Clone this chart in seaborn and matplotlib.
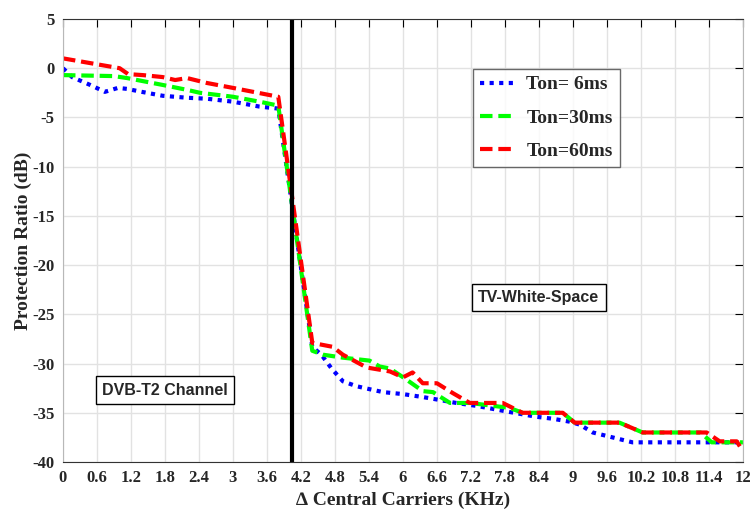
import seaborn as sns
import matplotlib.pyplot as plt
import numpy as np

# values
x_6ms = [0, 0.16, 0.48, 0.74, 0.97, 1.13, 1.39, 1.76, 2.19, 2.54, 3.0, 3.47, 3.8,
         4.4, 4.56, 4.74, 4.94, 5.18, 5.41, 5.65, 6.0, 6.35, 6.65, 6.94, 7.3, 7.77,
         8.35, 8.64, 8.94, 9.12, 9.35, 9.77, 10.05, 12.0]
y_6ms = [0.0, -0.9, -1.7, -2.4, -2.0, -2.1, -2.4, -2.8, -3.0, -3.1, -3.4, -3.9, -4.1,
         -28.3, -29.1, -30.5, -31.8, -32.3, -32.6, -32.9, -33.1, -33.4, -33.7, -34.0,
         -34.3, -34.8, -35.4, -35.6, -35.9, -36.2, -37.0, -37.6, -38.0, -38.0]

x_30ms = [0, 0.9, 1.13, 1.76, 2.19, 2.42, 3.0, 3.47, 3.8, 4.4, 4.59, 4.94, 5.41,
          5.59, 5.77, 6.03, 6.35, 6.53, 6.83, 7.18, 7.88, 8.11, 8.82, 9.03, 9.82,
          10.23, 11.25, 11.45, 12.0]
y_30ms = [-0.7, -0.8, -1.0, -1.7, -2.2, -2.5, -2.9, -3.4, -3.8, -28.7, -29.1, -29.4,
          -29.7, -30.3, -30.5, -31.5, -32.8, -32.9, -34.0, -34.0, -34.5, -35.0, -35.0,
          -36.0, -36.0, -37.0, -37.0, -38.0, -38.0]

x_60ms = [0, 1.0, 1.15, 1.41, 1.76, 1.98, 2.19, 2.54, 3.0, 3.8, 4.4, 4.76, 4.94,
          5.36, 5.77, 6.0, 6.17, 6.35, 6.6, 6.88, 7.18, 7.76, 8.11, 8.82, 9.03, 9.82,
          10.23, 11.36, 11.59, 11.89, 12.0]
y_60ms = [1.0, 0.0, -0.6, -0.7, -0.9, -1.2, -1.0, -1.5, -2.0, -2.9, -27.9, -28.3,
          -29.1, -30.4, -30.8, -31.4, -30.9, -32.0, -32.0, -33.0, -34.0, -34.0, -35.0,
          -35.0, -36.0, -36.0, -37.0, -37.0, -37.9, -37.9, -38.9]

labels = ["Ton= 6ms", "Ton=30ms", "Ton=60ms"]
border_x = 4.05
xticks = np.round(np.arange(0, 12.01, 0.6), 1)
yticks = np.arange(-40, 6, 5)

sns.set_style("whitegrid")
plt.rcParams['font.family'] = ['Liberation Serif', 'DejaVu Serif']
plt.rcParams['font.weight'] = 'bold'
plt.rcParams['axes.unicode_minus'] = False

fig = plt.figure(figsize=(7.55, 5.09), dpi=100)
ax = fig.add_axes([0.0834, 0.0923, 0.9006, 0.8704])

sns.lineplot(x=x_6ms, y=y_6ms, sort=False, color="#0000ff", linestyle=(0, (1, 1.3)),
             lw=3, label=labels[0], ax=ax)
sns.lineplot(x=x_30ms, y=y_30ms, sort=False, color="#00ff00", linestyle=(0, (3, 1.4)),
             lw=3, label=labels[1], ax=ax)
sns.lineplot(x=x_60ms, y=y_60ms, sort=False, color="#ff0000", linestyle=(0, (3, 1.4)),
             lw=3, label=labels[2], ax=ax)
ax.axvline(border_x, color="black", lw=3)

ax.set_xlim(0, 12)
ax.set_ylim(-40, 5)
ax.set_xticks(xticks)
ax.set_xticklabels([f"{v:g}" for v in xticks])
ax.set_yticks(yticks)
ax.tick_params(direction="in", top=True, right=True, labelsize=12, length=5.5,
               color="black", pad=6)
for lab in ax.get_xticklabels() + ax.get_yticklabels():
    lab.set_fontweight("bold")
ax.grid(True, color="#e2e2e2", lw=1)
for side in ["left", "right"]:
    ax.spines[side].set_color("#b8b8b8")
for side in ["top", "bottom"]:
    ax.spines[side].set_color("#333333")

ax.set_xlabel("\u2206 Central Carriers (KHz)", fontsize=14, fontweight="bold", labelpad=4)
ax.set_ylabel("Protection Ratio (dB)", fontsize=14, fontweight="bold", labelpad=0)

leg = ax.legend(loc="upper left", bbox_to_anchor=(0.603, 0.887), borderaxespad=0,
                fontsize=14, frameon=True, fancybox=False, edgecolor="#444444",
                handlelength=1.7, labelspacing=0.8, borderpad=0.35, handletextpad=0.7)
leg.get_frame().set_linewidth(1)
for t in leg.get_texts():
    t.set_fontweight("bold")

box = dict(boxstyle="square,pad=0.4", facecolor="white", edgecolor="black", lw=1)
ax.text(8.4, -23.3, "TV-White-Space", family=["Liberation Sans"], fontsize=11.5,
        fontweight="bold", ha="center", va="center", bbox=box)
ax.text(1.8, -32.7, "DVB-T2 Channel", family=["Liberation Sans"], fontsize=11.5,
        fontweight="bold", ha="center", va="center", bbox=box)

fig.savefig("out.png", dpi=100)
